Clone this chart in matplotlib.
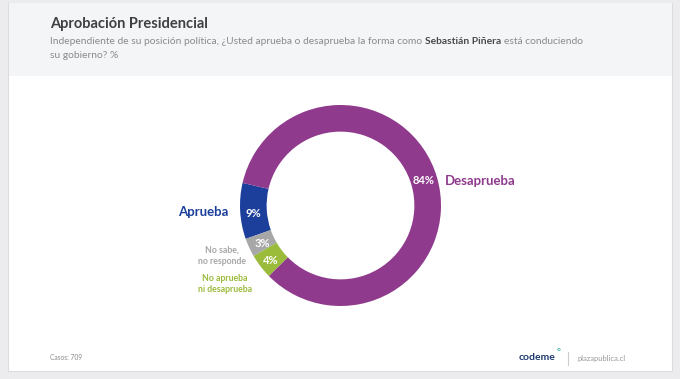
import matplotlib
matplotlib.use("Agg")
import matplotlib.pyplot as plt
from matplotlib.patches import Rectangle

labels = ["Aprueba", "No sabe,\nno responde", "No aprueba\nni desaprueba", "Desaprueba"]
values = [9, 3, 4, 84]
colors = ["#1c3f9c", "#a7a7a7", "#9bbb3b", "#8f3a8d"]

W, H = 680, 379
plt.rcParams["font.family"] = ["Lato", "DejaVu Sans"]

fig = plt.figure(figsize=(W / 100, H / 100), dpi=100)
fig.patch.set_facecolor("#ececef")


def fx(x):
    return x / W


def fy(y):
    return 1 - y / H


# tarjeta blanca y cabecera gris (debajo de todo)
fig.patches.append(Rectangle((fx(8), fy(371)), fx(664), 368 / H, transform=fig.transFigure,
                             facecolor="white", edgecolor="#dcdcdf", lw=0.8, zorder=-3))
fig.patches.append(Rectangle((fx(8.5), fy(76)), fx(663), 73 / H, transform=fig.transFigure,
                             facecolor="#f4f5f7", edgecolor="none", zorder=-2))

# titulo
fig.text(fx(50), fy(24), "Aprobación Presidencial", fontsize=10.5, fontweight="bold",
         color="#404040", va="center")

# subtitulo con parte en negrita
fs = 7.35
r = fig.canvas.get_renderer()
t1 = fig.text(fx(50), fy(42), "Independiente de su posición política, ¿Usted aprueba o desaprueba la forma como ",
              fontsize=fs, color="#8a8a8a", va="center")
bb = t1.get_window_extent(r)
t2 = fig.text(bb.x1 / W, fy(42), "Sebastián Piñera", fontsize=fs, color="#4a4a4a",
              fontweight="bold", va="center")
bb2 = t2.get_window_extent(r)
fig.text(bb2.x1 / W + 3 / W, fy(42), "está conduciendo", fontsize=fs, color="#8a8a8a", va="center")
fig.text(fx(50), fy(56), "su gobierno? %", fontsize=fs, color="#8a8a8a", va="center")

# donut
ax = fig.add_axes([fx(240), fy(306), 201 / W, 201 / H])
wedges, _ = ax.pie(values, colors=colors, startangle=167, counterclock=True, radius=1,
                   wedgeprops=dict(width=0.265, linewidth=0))
ax.set_xlim(-1, 1)
ax.set_ylim(-1, 1)
ax.set_aspect("auto")
ax.axis("off")

# porcentajes dentro del anillo
pct_pos = [(253, 213), (262, 243), (271, 261), (424, 181)]
for (x, y), v in zip(pct_pos, values):
    fig.text(fx(x), fy(y), f"{v}%", fontsize=8, fontweight="bold", color="white",
             ha="center", va="center")

# etiquetas de categoria
fig.text(fx(228), fy(212), labels[0], fontsize=9.5, fontweight="bold", color=colors[0],
         ha="right", va="center")
fig.text(fx(222), fy(256), labels[1], fontsize=6.3, fontweight="bold", color="#a7a7a7",
         ha="center", va="center", linespacing=1.25)
fig.text(fx(225), fy(284), labels[2], fontsize=6.3, fontweight="bold", color=colors[2],
         ha="center", va="center", linespacing=1.25)
fig.text(fx(445), fy(181), labels[3], fontsize=9.5, fontweight="bold", color=colors[3],
         ha="left", va="center")

# pie de pagina
fig.text(fx(50), fy(358), "Casos: 709", fontsize=4.8, color="#8a8a8a", va="center")
fig.text(fx(519), fy(358), "codeme", fontsize=7.5, fontweight="bold", color="#1f3a6e", va="center")
fig.text(fx(557), fy(353), "°", fontsize=7, color="#1fa0a0", va="center")
fig.lines.append(plt.Line2D([fx(568), fx(568)], [fy(352), fy(365)], transform=fig.transFigure,
                            color="#cccccc", lw=0.8))
fig.text(fx(577), fy(358), "plazapublica.cl", fontsize=5.5, color="#9a9a9a", va="center")

fig.savefig("out.png", dpi=100, facecolor=fig.get_facecolor())
